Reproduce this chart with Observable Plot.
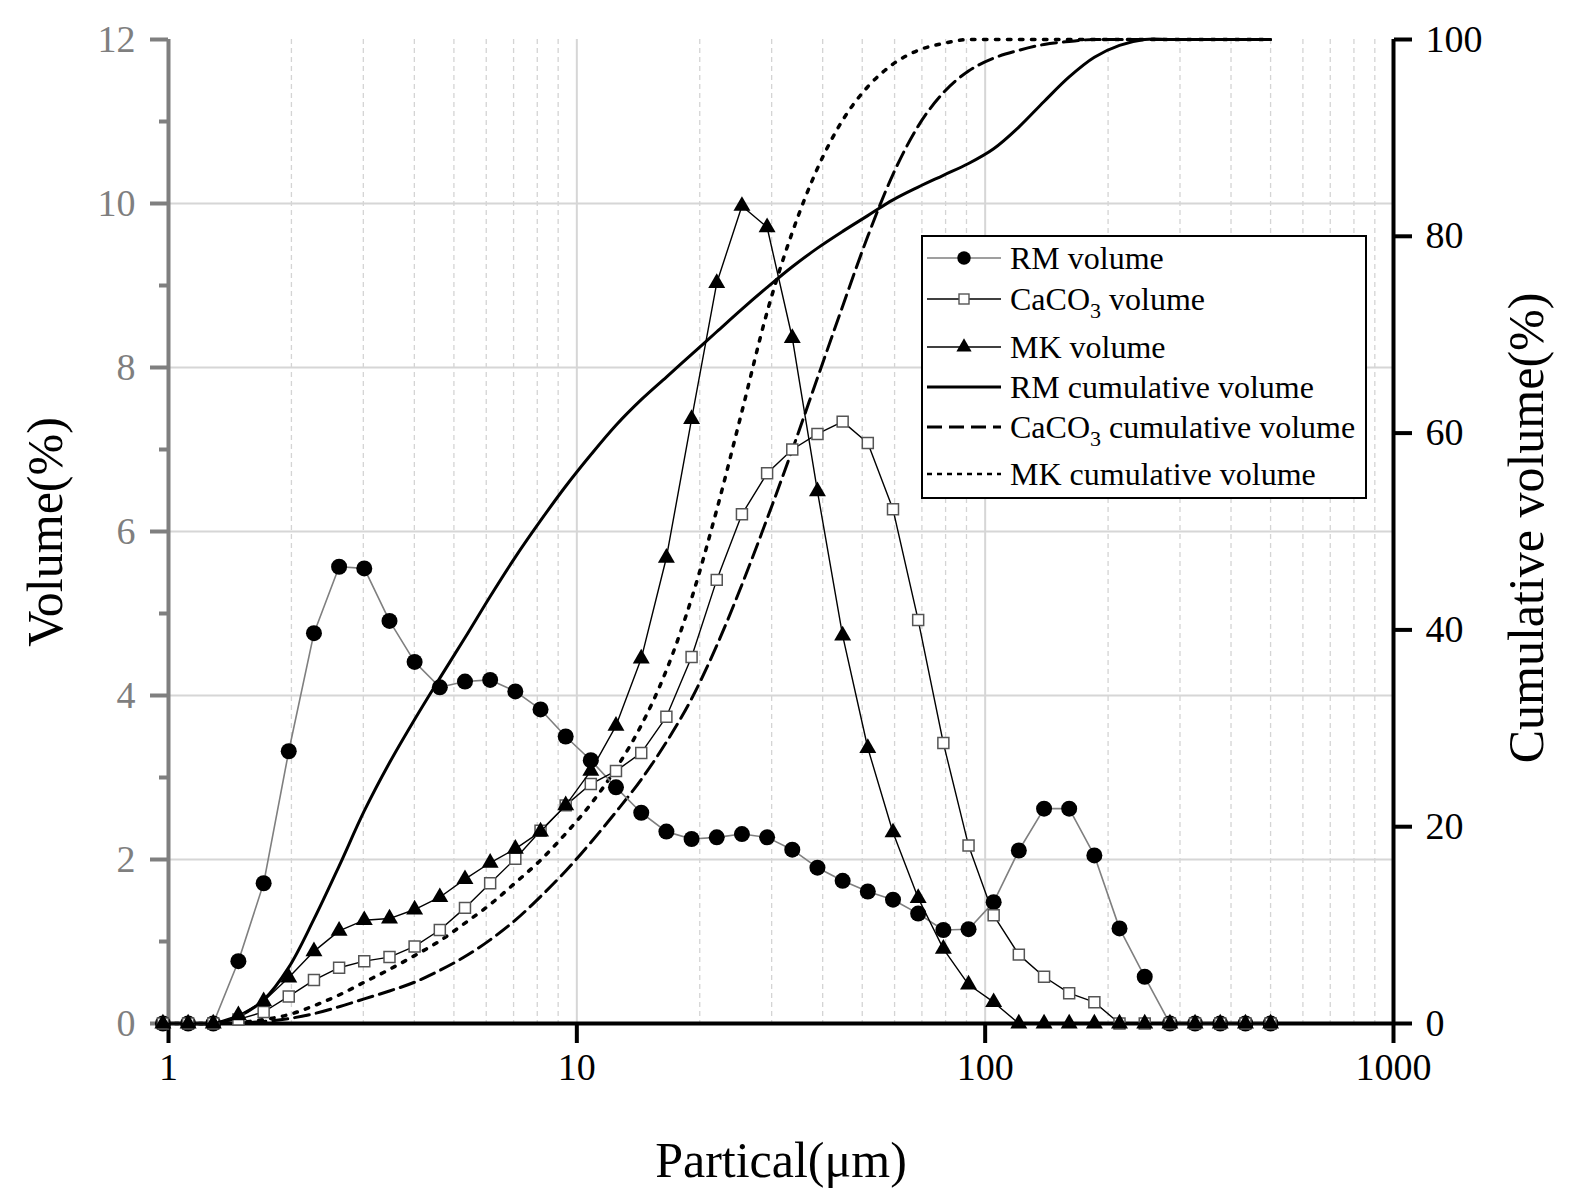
<!DOCTYPE html>
<html><head><meta charset="utf-8">
<script src="https://cdn.jsdelivr.net/npm/d3@7"></script>
<script src="https://cdn.jsdelivr.net/npm/@observablehq/plot@0.6"></script>
<style>
body{margin:0;background:#fff}
#wrap{position:relative;width:1575px;height:1196px;background:#fff}
#overlay{position:absolute;left:0;top:0;pointer-events:none}
#overlay text{font-family:'Liberation Serif','Times New Roman',serif}
</style>
</head><body><div id="wrap"></div>
<script>
// particle sizes (µm)
const sizes = [0.969,1.117,1.287,1.483,1.710,1.970,2.271,2.617,3.016,3.477,4.006,4.618,5.322,6.134,7.069,8.149,9.391,10.82,12.47,14.38,16.57,19.10,22.01,25.37,29.24,33.70,38.84,44.77,51.59,59.47,68.54,79.00,91.05,104.9,120.9,139.4,160.6,185.1,213.3,245.9,283.4,326.6,376.4,433.9,500.0];
// volume (%) – left axis
const rmVol = [0,0,0,0.76,1.71,3.32,4.76,5.57,5.55,4.91,4.41,4.10,4.17,4.19,4.05,3.83,3.50,3.21,2.88,2.57,2.34,2.25,2.27,2.31,2.27,2.12,1.90,1.74,1.61,1.51,1.34,1.14,1.15,1.48,2.11,2.62,2.62,2.05,1.16,0.57,0,0,0,0,0];
const caVol = [0,0,0,0.05,0.14,0.33,0.53,0.68,0.76,0.81,0.94,1.14,1.41,1.71,2.01,2.35,2.66,2.92,3.08,3.30,3.74,4.47,5.41,6.21,6.71,7.00,7.19,7.34,7.08,6.27,4.92,3.42,2.17,1.32,0.84,0.57,0.37,0.26,0,0,0,0,0,0,0];
const mkVol = [0,0,0,0.10,0.27,0.56,0.88,1.13,1.26,1.28,1.39,1.54,1.76,1.96,2.13,2.34,2.66,3.08,3.63,4.45,5.68,7.37,9.03,9.97,9.71,8.36,6.49,4.73,3.36,2.33,1.53,0.91,0.475,0.26,0,0,0,0,0,0,0,0,0,0,0];
// cumulative volume (%) – right axis
const rmCum = [0,0,0,0.7,2.4,5.7,10.6,16.0,21.6,26.5,30.9,35.1,39.2,43.4,47.4,51.1,54.6,57.8,60.8,63.4,65.7,68.0,70.3,72.6,74.8,76.9,78.8,80.5,82.1,83.7,85.0,86.2,87.4,88.9,91.1,93.7,96.2,98.2,99.4,100,100,100,100,100,100];
const caCum = [0,0,0,0.05,0.2,0.5,1.0,1.7,2.5,3.3,4.2,5.4,6.8,8.5,10.5,12.9,15.5,18.4,21.5,24.8,28.6,33.0,38.4,44.6,51.3,58.3,65.6,72.9,80.0,86.3,91.2,94.6,96.8,98.1,98.9,99.5,99.8,100,100,100,100,100,100,100,100];
const mkCum = [0,0,0,0.1,0.4,0.9,1.8,2.9,4.2,5.5,6.9,8.4,10.2,12.1,14.3,16.6,19.3,22.3,25.9,30.3,35.9,43.2,52.2,62.2,72.3,80.4,86.9,91.8,95.2,97.5,98.9,99.6,100,100,100,100,100,100,100,100,100,100,100,100,100];
// ticks
const xTicks = [1,10,100,1000];
const xMinor = [2,3,4,5,6,7,8,9,20,30,40,50,60,70,80,90,200,300,400,500,600,700,800,900];
const yTicks = [0,2,4,6,8,10,12];
const yMinor = [1,3,5,7,9,11];
const yGrid = [2,4,6,8,10];
const rTicks = [0,20,40,60,80,100];
// legend labels
const legendLabels = [["RM volume"],["CaCO","3"," volume"],["MK volume"],["RM cumulative volume"],["CaCO","3"," cumulative volume"],["MK cumulative volume"]];

const rk = 12/100; // right axis (0-100) onto left axis (0-12)
const rows = sizes.map((s,i)=>({s, rm:rmVol[i], ca:caVol[i], mk:mkVol[i], rmC:rmCum[i]*rk, caC:caCum[i]*rk, mkC:mkCum[i]*rk}));
const font = "'Liberation Serif','Times New Roman',serif";
const gray = "#7f7f7f";

const chart = Plot.plot({
  width:1575, height:1196,
  marginLeft:168, marginRight:182, marginTop:39, marginBottom:173,
  style:{fontFamily:font, background:"white"},
  x:{type:"log", domain:[1,1000], label:null},
  y:{domain:[0,12], label:null},
  marks:[
    Plot.gridX(xMinor,{stroke:"#d4d4d4", strokeOpacity:1, strokeWidth:1.3, strokeDasharray:"5 4"}),
    Plot.gridX([10,100],{stroke:"#d6d6d6", strokeOpacity:1, strokeWidth:2}),
    Plot.gridY(yGrid,{stroke:"#d6d6d6", strokeOpacity:1, strokeWidth:2}),
    // left axis (gray)
    Plot.axisY(yTicks,{anchor:"left", tickSize:18, tickPadding:15, fontSize:38, color:gray, strokeWidth:4, tickFormat:d=>String(d), label:null}),
    Plot.axisY(yMinor,{anchor:"left", tickSize:9, tickFormat:()=>"", color:gray, strokeWidth:4, label:null}),
    // right axis
    Plot.axisY(rTicks.map(v=>v*rk),{anchor:"right", tickSize:18, tickPadding:14, fontSize:38, color:"black", strokeWidth:4, tickFormat:d=>String(Math.round(d/rk)), label:null}),
    // bottom axis
    Plot.axisX(xTicks,{anchor:"bottom", tickSize:20, tickPadding:10, fontSize:38, color:"black", strokeWidth:4, tickFormat:d=>String(d), label:null}),
    Plot.ruleX([1],{stroke:gray, strokeWidth:4}),
    Plot.ruleX([1000],{stroke:"black", strokeWidth:4}),
    Plot.ruleY([0],{stroke:"black", strokeWidth:4}),
    // cumulative curves
    Plot.line(rows,{x:"s", y:"rmC", curve:"catmull-rom", stroke:"black", strokeWidth:3}),
    Plot.line(rows,{x:"s", y:"caC", curve:"monotone-x", stroke:"black", strokeWidth:3, strokeDasharray:"15 7"}),
    Plot.line(rows,{x:"s", y:"mkC", curve:"monotone-x", stroke:"black", strokeWidth:3.5, strokeDasharray:"3.5 8.5"}),
    // volume series
    Plot.line(rows,{x:"s", y:"rm", stroke:gray, strokeWidth:1.6}),
    Plot.dot(rows,{x:"s", y:"rm", symbol:"circle", r:8, fill:"black"}),
    Plot.line(rows,{x:"s", y:"ca", stroke:"black", strokeWidth:1.4}),
    Plot.dot(rows,{x:"s", y:"ca", symbol:"square", r:6.2, fill:"white", stroke:"#555", strokeWidth:1.5}),
    Plot.line(rows,{x:"s", y:"mk", stroke:"black", strokeWidth:1.4}),
    Plot.dot(rows,{x:"s", y:"mk", symbol:"triangle", r:6.3, fill:"black"})
  ]
});
document.getElementById("wrap").appendChild(chart);

// overlay: axis titles + legend
const svg = d3.select("#wrap").append("svg").attr("id","overlay")
  .attr("width",1575).attr("height",1196).style("white-space","pre");
function txt(sel){ return sel.append("text").attr("font-family",font).attr("fill","black"); }
txt(svg).attr("transform","translate(62,532) rotate(-90)")
  .attr("text-anchor","middle").attr("font-size",50).text("Volume(%)");
txt(svg).attr("transform","translate(1543,528) rotate(-90)")
  .attr("text-anchor","middle").attr("font-size",50).text("Cumulative volume(%)");
txt(svg).attr("x",781).attr("y",1177)
  .attr("text-anchor","middle").attr("font-size",50).text("Partical(μm)");

const lg = svg.append("g");
lg.append("rect").attr("x",922).attr("y",236).attr("width",444).attr("height",262)
  .attr("fill","white").attr("stroke","black").attr("stroke-width",2);
const rowY = [258,299,347,387,427,474];
const lx1 = 927, lx2 = 1001, mx = 964, tx = 1010;
const styles = [
  {stroke:gray, w:1.6},
  {stroke:"black", w:1.4},
  {stroke:"black", w:1.4},
  {stroke:"black", w:3},
  {stroke:"black", w:3, dash:"15 7"},
  {stroke:"black", w:2.5, dash:"5 5"}
];
rowY.forEach((y,i)=>{
  const st = styles[i];
  const ln = lg.append("line").attr("x1",lx1).attr("x2",lx2).attr("y1",y).attr("y2",y)
    .attr("stroke",st.stroke).attr("stroke-width",st.w);
  if (st.dash) ln.attr("stroke-dasharray",st.dash);
  if (i===0) lg.append("circle").attr("cx",mx).attr("cy",y).attr("r",6.7).attr("fill","black");
  if (i===1) lg.append("rect").attr("x",mx-5).attr("y",y-5).attr("width",10).attr("height",10)
    .attr("fill","white").attr("stroke","#555").attr("stroke-width",1.4);
  if (i===2) lg.append("path").attr("transform",`translate(${mx},${y})`)
    .attr("d", d3.symbol(d3.symbolTriangle, 100)()).attr("fill","black");
  const t = txt(lg).attr("x",tx).attr("y",y+11).attr("font-size",32);
  const parts = legendLabels[i];
  if (parts.length===1) t.text(parts[0]);
  else {
    t.append("tspan").text(parts[0]);
    t.append("tspan").attr("font-size",22).attr("dy",8).text(parts[1]);
    t.append("tspan").attr("dy",-8).text(parts[2]);
  }
});
</script>
</body></html>
